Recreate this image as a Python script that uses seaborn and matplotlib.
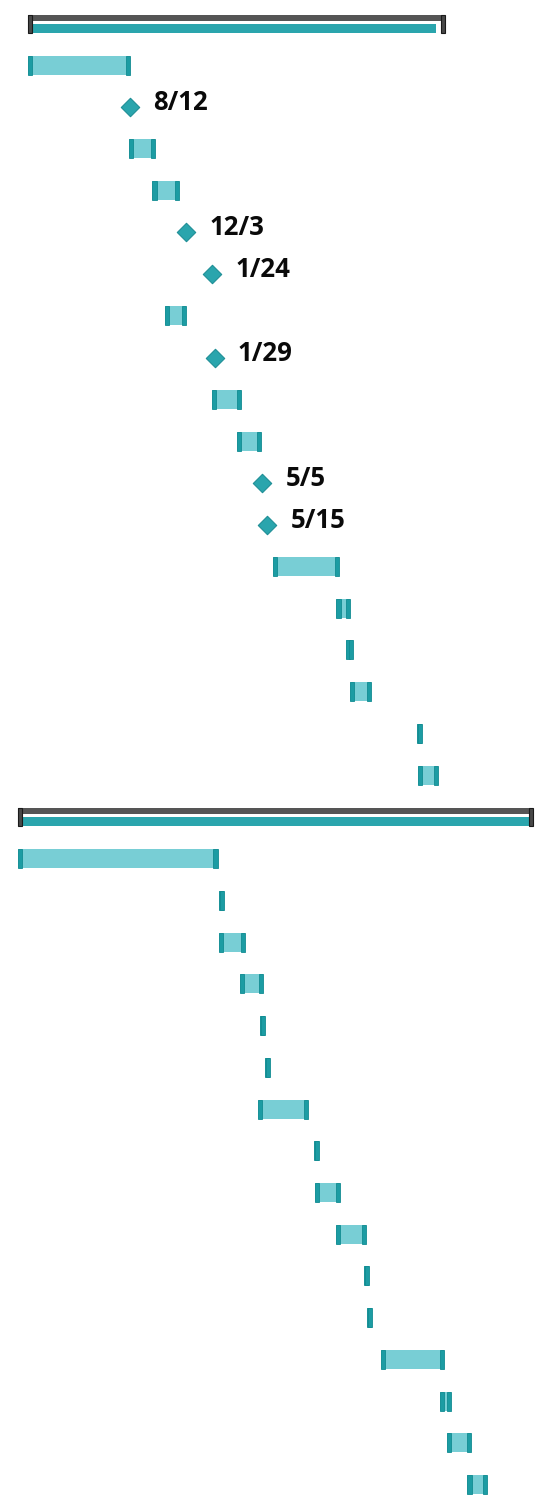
import pandas as pd
import numpy as np
import matplotlib
matplotlib.use("Agg")
import matplotlib.pyplot as plt
import matplotlib.dates as mdates
import seaborn as sns

# one entry per row, top to bottom
kinds = ["summary", "task", "milestone", "task", "task", "milestone", "milestone", "task",
         "milestone", "task", "task", "milestone", "milestone", "task", "task", "task",
         "task", "task", "task",
         "summary", "task", "task", "task", "task", "task", "task", "task", "task",
         "task", "task", "task", "task", "task", "task", "task", "task"]
starts = ["2022-01-18", "2022-01-18", "2022-08-12", "2022-08-09", "2022-09-26", "2022-12-03",
          "2023-01-24", "2022-10-21", "2023-01-29", "2023-01-24", "2023-03-15", "2023-05-05",
          "2023-05-15", "2023-05-27", "2023-10-01", "2023-10-20", "2023-10-28", "2024-03-11",
          "2024-03-12",
          "2021-12-29", "2021-12-29", "2023-02-07", "2023-02-07", "2023-03-21", "2023-04-30",
          "2023-05-10", "2023-04-26", "2023-08-16", "2023-08-19", "2023-09-30", "2023-11-25",
          "2023-12-01", "2023-12-29", "2024-04-26", "2024-05-10", "2024-06-20"]
ends = ["2024-04-19", "2022-08-12", "2022-08-12", "2022-10-01", "2022-11-18", "2022-12-03",
        "2023-01-24", "2022-12-02", "2023-01-29", "2023-03-23", "2023-05-02", "2023-05-05",
        "2023-05-15", "2023-10-07", "2023-10-28", "2023-11-04", "2023-12-09", "2024-03-21",
        "2024-04-23",
        "2024-10-24", "2023-02-04", "2023-02-17", "2023-03-31", "2023-05-06", "2023-05-10",
        "2023-05-20", "2023-08-05", "2023-08-27", "2023-10-08", "2023-11-30", "2023-12-06",
        "2023-12-11", "2024-05-04", "2024-05-18", "2024-06-27", "2024-07-30"]
# planned span for the two summary rows (grey bracket)
summary_plan_ends = ["2024-05-07", "2024-10-30"]

df = pd.DataFrame({"kind": kinds, "start": pd.to_datetime(starts), "end": pd.to_datetime(ends)})
df["row"] = np.arange(len(df))
df["x0"] = mdates.date2num(df["start"])
df["x1"] = mdates.date2num(df["end"])

sns.set_theme(style="white")
plt.rcParams["font.family"] = ["Open Sans", "DejaVu Sans"]

W, H = 539, 1501
fig = plt.figure(figsize=(W / 100, H / 100), dpi=100)
ax = fig.add_axes([0, 0, 1, 1])
ax.set_axis_off()

px_per_day = 0.4975
ref = mdates.date2num(pd.Timestamp("2022-08-12"))
xlo = ref - 130 / px_per_day
ax.set_xlim(xlo, xlo + W / px_per_day)
pitch = 41.74
top = 23.76
ax.set_ylim((H - top) / pitch, -top / pitch)

fill = "#78ced5"
cap_c = "#1c9ca3"
cap_e = "#128c92"
teal = "#2aa5ad"
grey = "#555555"
cap_w = 4.2 / px_per_day
bar_h = 19 / pitch

tasks = df[df["kind"] == "task"]
ax.barh(tasks["row"], tasks["x1"] - tasks["x0"], left=tasks["x0"], height=bar_h,
        color=fill, edgecolor="none", zorder=2)
ax.barh(tasks["row"], cap_w, left=tasks["x0"], height=bar_h,
        color=cap_c, edgecolor=cap_e, linewidth=0.6, zorder=3)
ax.barh(tasks["row"], cap_w, left=tasks["x1"] - cap_w, height=bar_h,
        color=cap_c, edgecolor=cap_e, linewidth=0.6, zorder=3)

summ = df[df["kind"] == "summary"].copy()
summ["xp"] = mdates.date2num(pd.to_datetime(summary_plan_ends))
ax.barh(summ["row"] - 5.5 / pitch, summ["xp"] - summ["x0"], left=summ["x0"],
        height=6 / pitch, color=grey, edgecolor="none", zorder=2)
ax.barh(summ["row"] + 4.7 / pitch, summ["x1"] - summ["x0"], left=summ["x0"],
        height=9 / pitch, color=teal, edgecolor="none", zorder=2)
for xc in [summ["x0"], summ["xp"] - cap_w]:
    ax.barh(summ["row"], cap_w, left=xc, height=18.5 / pitch,
            color="#484848", edgecolor="#1a1a1a", linewidth=0.8, zorder=4)

ms = df[df["kind"] == "milestone"]
sns.scatterplot(x=ms["x0"], y=ms["row"], marker="D", s=88, color=teal,
                edgecolor="#1f8f96", linewidth=0.8, zorder=5, ax=ax, legend=False)
for _, r in ms.iterrows():
    ax.annotate(f"{r['start'].month}/{r['start'].day}", (r["x0"], r["row"]),
                xytext=(23, -3), textcoords="offset pixels", ha="left", va="baseline",
                fontsize=18.5, fontweight="bold", color="#0a0a0a")

ax.set_xlabel("")
ax.set_ylabel("")
fig.savefig("out.png", dpi=100)
